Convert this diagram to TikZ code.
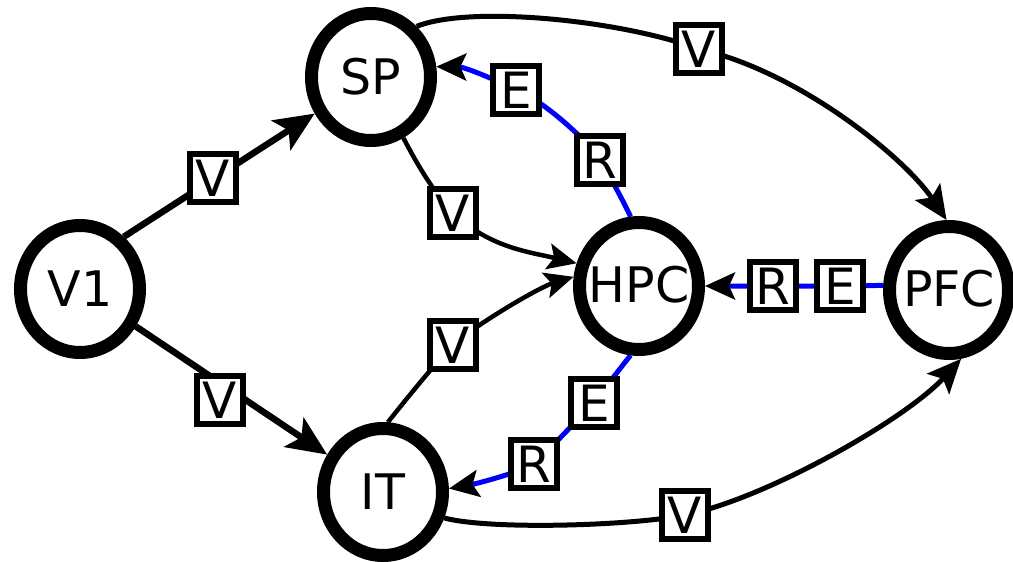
\documentclass[tikz,border=0pt]{standalone}
\usepackage{fontspec}
\setmainfont{DejaVu Sans}
\usetikzlibrary{arrows.meta,backgrounds,shapes.geometric}
\newcommand\areaname[2][0pt]{\raisebox{#1}{\makebox[0pt][c]{#2}}}
\begin{document}
\begin{tikzpicture}[x=1pt,y=-1pt,
  area/.style={ellipse,draw,line width=13pt,fill=white,minimum width=119pt,
    minimum height=127pt,inner sep=0pt,font=\fontsize{49}{58}\selectfont},
  tag/.style={rectangle,draw,line width=6pt,fill=white,minimum width=46pt,
    minimum height=48pt,inner sep=0pt,font=\fontsize{50}{58}\selectfont},
  fwd/.style={line width=6.5pt,-{Stealth[length=40pt,width=35pt,inset=9pt]}},
  longarc/.style={line width=5pt,-{Stealth[length=34pt,width=30pt,inset=7pt]}},
  lateral/.style={line width=4.5pt,-{Stealth[length=29pt,width=26pt,inset=6pt]}},
  recur/.style={draw=blue,line width=5pt,
    -{Stealth[length=30pt,width=27pt,inset=6pt,color=black]}},
]
\useasboundingbox (0,0) rectangle (1013,562);

% brain areas
\node[area] (V1)  at (80,289)  {\areaname{V1}};
\node[area] (SP)  at (371,77)  {\areaname{SP}};
\node[area] (HPC) at (639,286) {\areaname[3pt]{HPC}};
\node[area] (PFC) at (949,290) {\areaname[3pt]{PFC}};
\node[area] (IT)  at (383,492) {\areaname{IT}};

% connection type tags
\node[tag] (a1) at (213,178) {V};
\node[tag] (a2) at (220,400) {V};
\node[tag] (a3) at (453,213) {V};
\node[tag] (a4) at (453,345) {V};
\node[tag] (a5) at (699,49)  {V};
\node[tag] (a6) at (685,515) {V};
\node[tag] (b1) at (600,160) {R};
\node[tag] (b2) at (516,90)  {E};
\node[tag] (c1) at (594,403) {E};
\node[tag] (c2) at (534,464) {R};
\node[tag] (d1) at (773,286) {R};
\node[tag] (d2) at (840,286) {E};

\begin{scope}[on background layer]
  % feed-forward visual pathways
  \draw[fwd] (V1.50) -- (SP.213);
  \draw[fwd] (V1) -- (IT);
  \draw[lateral] (SP.-62) .. controls (418,166) and (433,191) .. (a3.center)
    .. controls (490,248) and (530,252) .. (HPC.160);
  \draw[lateral] (IT.86) .. controls (400,407) and (436,362) .. (a4.center)
    .. controls (478,323) and (540,287) .. (HPC.172);
  \draw[longarc] (SP.48) .. controls (470,5) and (620,20) .. (a5.center)
    .. controls (800,72) and (905,158) .. (PFC.92);
  \draw[longarc] (IT.-23) .. controls (490,530) and (630,526) .. (a6.center)
    .. controls (765,499) and (905,420) .. (PFC.-80);
  % recurrent pathways
  \draw[recur] (HPC.97) .. controls (626,206) and (607,171) .. (b1.center)
    .. controls (586,138) and (538,97) .. (b2.center)
    .. controls (496,80) and (465,67) .. (SP.9);
  \draw[recur] (HPC.-97) .. controls (618,371) and (606,387) .. (c1.center)
    .. controls (574,423) and (552,447) .. (c2.center)
    .. controls (516,474) and (470,485) .. (IT.3);
  \draw[recur] (PFC.176) -- (d2) -- (d1) -- (HPC.0);
\end{scope}
\end{tikzpicture}
\end{document}
